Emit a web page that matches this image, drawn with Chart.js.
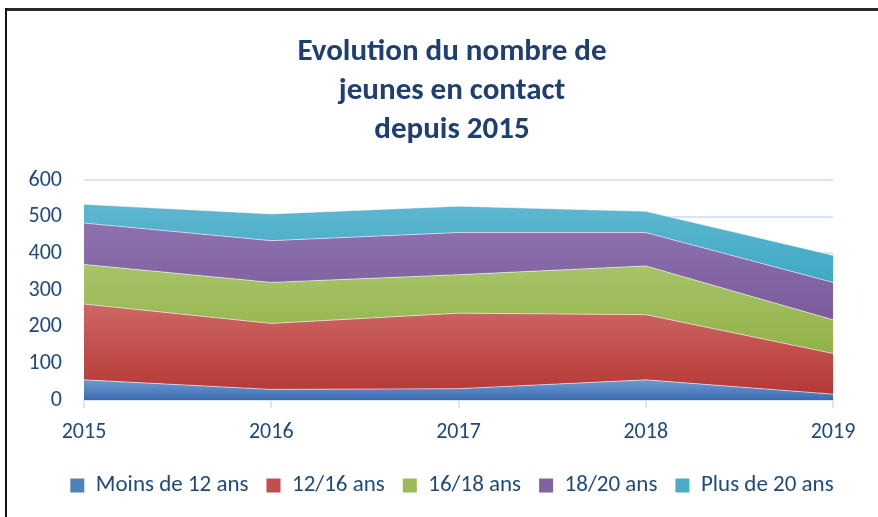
<!DOCTYPE html>
<html>
<head>
<meta charset="utf-8">
<script src="https://cdn.jsdelivr.net/npm/chart.js@4/dist/chart.umd.min.js"></script>
<style>
  html, body { margin: 0; padding: 0; background: #fff; }
  #wrap { position: relative; width: 878px; height: 517px; overflow: hidden; }
  #c { position: absolute; left: 0; top: 0; }
  #bt { position: absolute; left: 5px; top: 8px; width: 873px; height: 0; border-top: 3px solid #2a2a2a; }
  #bl { position: absolute; left: 5px; top: 8px; width: 0; height: 509px; border-left: 2px solid #111; }
</style>
</head>
<body>
<div id="wrap">
  <canvas id="c" width="878" height="517"></canvas>
  <div id="bt"></div>
  <div id="bl"></div>
</div>
<script>
const years = ['2015', '2016', '2017', '2018', '2019'];
const seriesNames = ['Moins de 12 ans', '12/16 ans', '16/18 ans', '18/20 ans', 'Plus de 20 ans'];
const moins12 = [55, 29, 31, 55, 16];
const a12_16 = [207, 180, 206, 178, 111];
const a16_18 = [108, 112, 105, 133, 92];
const a18_20 = [113, 114, 115, 91, 102];
const plus20 = [51, 73, 72, 58, 74];
const yTicks = [0, 100, 200, 300, 400, 500, 600];
const titleLines = ['Evolution du nombre de', 'jeunes en contact', 'depuis 2015'];

const seriesValues = [moins12, a12_16, a16_18, a18_20, plus20];
const topColors = ['#7099d0', '#cd6765', '#a7c46a', '#8e72ae', '#5fb7cf'];
const bottomColors = ['#3c6cb0', '#b53835', '#92b248', '#7a5a9c', '#3ea8c5'];
const midColors = ['#4f81bd', '#c0504d', '#9bbb59', '#8064a2', '#4bacc6'];

function cumulative(idx) {
  return years.map((_, j) => {
    let s = 0;
    for (let k = 0; k <= idx; k++) s += seriesValues[k][j];
    return s;
  });
}

function bandGradient(idx) {
  return function (ctx) {
    const chart = ctx.chart;
    const y = chart.scales && chart.scales.y;
    if (!y || !chart.chartArea) return midColors[idx];
    const tops = cumulative(idx);
    const bottoms = idx === 0 ? years.map(() => 0) : cumulative(idx - 1);
    const yTop = y.getPixelForValue(Math.max(...tops));
    const yBot = y.getPixelForValue(Math.min(...bottoms));
    if (!isFinite(yTop) || !isFinite(yBot) || yTop === yBot) return midColors[idx];
    const g = chart.ctx.createLinearGradient(0, yTop, 0, yBot);
    g.addColorStop(0, topColors[idx]);
    g.addColorStop(1, bottomColors[idx]);
    return g;
  };
}

const FONT = "Carlito, Lato, 'Open Sans', sans-serif";
const TXT = '#1f497d';
const GRID = '#d9e4f4';

const datasets = seriesValues.map((vals, i) => ({
  label: seriesNames[i],
  data: vals,
  fill: i === 0 ? 'origin' : '-1',
  backgroundColor: bandGradient(i),
  borderColor: 'rgba(255,255,255,0.55)',
  borderWidth: 1,
  pointRadius: 0,
  pointHoverRadius: 0,
  tension: 0
}));

new Chart(document.getElementById('c'), {
  type: 'line',
  data: { labels: years, datasets: datasets },
  options: {
    responsive: false,
    animation: false,
    events: [],
    layout: { padding: { left: 26, right: 0, top: 0, bottom: 10 } },
    plugins: {
      title: {
        display: true,
        text: titleLines,
        color: '#1f3f73',
        font: { family: FONT, size: 31, weight: 'bold', lineHeight: 1.26 },
        padding: { top: 33, bottom: 30 }
      },
      legend: {
        display: true,
        position: 'bottom',
        labels: {
          color: TXT,
          font: { family: FONT, size: 23 },
          boxWidth: 14,
          boxHeight: 14,
          padding: 18,
          generateLabels: function (chart) {
            return seriesNames.map((n, i) => ({
              text: n,
              fillStyle: midColors[i],
              strokeStyle: midColors[i],
              lineWidth: 0,
              hidden: false,
              datasetIndex: i,
              fontColor: TXT
            }));
          }
        }
      },
      tooltip: { enabled: false }
    },
    scales: {
      x: {
        type: 'category',
        offset: false,
        grid: { drawOnChartArea: false, drawTicks: true, tickLength: 8, color: GRID, lineWidth: 2 },
        border: { display: true, color: GRID, width: 2 },
        ticks: { color: TXT, font: { family: FONT, size: 22 }, padding: 11, maxRotation: 0 },
        afterFit: function (s) { s.height = 56; }
      },
      y: {
        stacked: true,
        min: 0,
        max: 600,
        afterBuildTicks: function (s) { s.ticks = yTicks.map(v => ({ value: v })); },
        grid: { drawTicks: false, color: GRID, lineWidth: 2 },
        border: { display: false },
        ticks: { color: TXT, font: { family: FONT, size: 22 }, padding: 22 },
        afterFit: function (s) { s.width = 58; }
      },
      yr: {
        position: 'right',
        display: true,
        grid: { drawOnChartArea: false, drawTicks: false },
        border: { display: false },
        ticks: { display: false },
        afterFit: function (s) { s.width = 45; }
      }
    }
  }
});
</script>
</body>
</html>
